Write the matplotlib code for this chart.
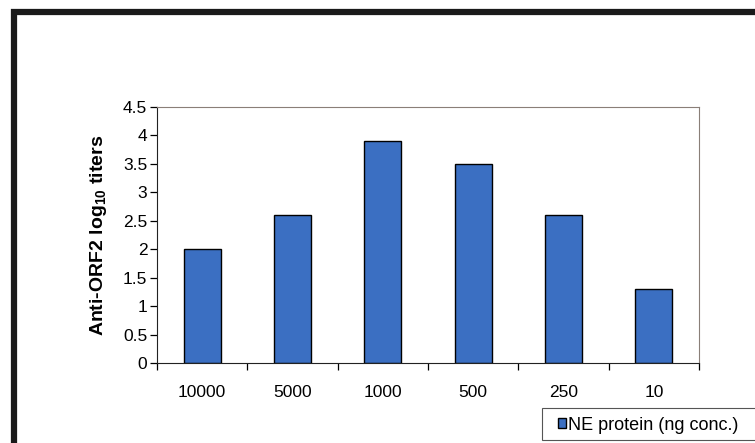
import matplotlib
matplotlib.use("Agg")
import matplotlib.pyplot as plt
from matplotlib.patches import Rectangle
from matplotlib.ticker import FixedLocator

plt.rcParams['font.family'] = ['Liberation Sans', 'DejaVu Sans']

doses = ['10000', '5000', '1000', '500', '250', '10']
titers = [2.0, 2.6, 3.9, 3.5, 2.6, 1.3]
bar_color = '#3b6fc2'

fig = plt.figure(figsize=(7.55, 4.43), dpi=100)
ax = fig.add_axes([0.208, 0.1806, 0.718, 0.578])

pos = [i + 0.5 for i in range(len(doses))]
bars = ax.bar(pos, titers, width=0.41, color=bar_color, edgecolor='black',
              linewidth=1.0, label='NE protein (ng conc.)')

ax.set_xlim(0, len(doses))
ax.set_ylim(0, 4.5)
ax.set_yticks([i * 0.5 for i in range(10)])
ax.set_yticklabels(['%g' % (i * 0.5) for i in range(10)])
ax.set_xticks(pos)
ax.set_xticklabels(doses)
ax.xaxis.set_minor_locator(FixedLocator(range(len(doses) + 1)))
ax.tick_params(axis='x', which='major', length=0, pad=16, labelsize=12.5)
ax.tick_params(axis='x', which='minor', length=5, direction='out', width=0.9)
ax.tick_params(axis='y', length=5, direction='out', width=0.9, labelsize=12.5, pad=2)

for side in ['left', 'bottom']:
    ax.spines[side].set_color('#222222')
for side in ['top', 'right']:
    ax.spines[side].set_color('#8a7f78')
    ax.spines[side].set_linewidth(0.8)

ax.set_ylabel('Anti-ORF2 log$_{\\mathregular{10}}$ titers', fontsize=14,
              fontweight='bold', labelpad=10)

# black border running off the right and bottom
fig.patches.append(Rectangle((14 / 755, -0.2), 1.3, 1.2 - 12 / 443,
                             transform=fig.transFigure, fill=False,
                             edgecolor='#1a1a1a', linewidth=4.5))

# legend box, cut off at the right edge
fig.patches.append(Rectangle((542 / 755, 1 - 440 / 443), 0.4, 32 / 443,
                             transform=fig.transFigure, fill=True,
                             facecolor='white', edgecolor='#555555',
                             linewidth=0.8, zorder=2))
leg = fig.legend(handles=[bars], loc='center left',
                 bbox_to_anchor=(558 / 755, 1 - 425 / 443),
                 frameon=False, fontsize=13, handlelength=0.42,
                 handleheight=0.42, handletextpad=0.12, borderpad=0,
                 borderaxespad=0)
leg.set_zorder(3)

fig.savefig('out.png', dpi=100)
